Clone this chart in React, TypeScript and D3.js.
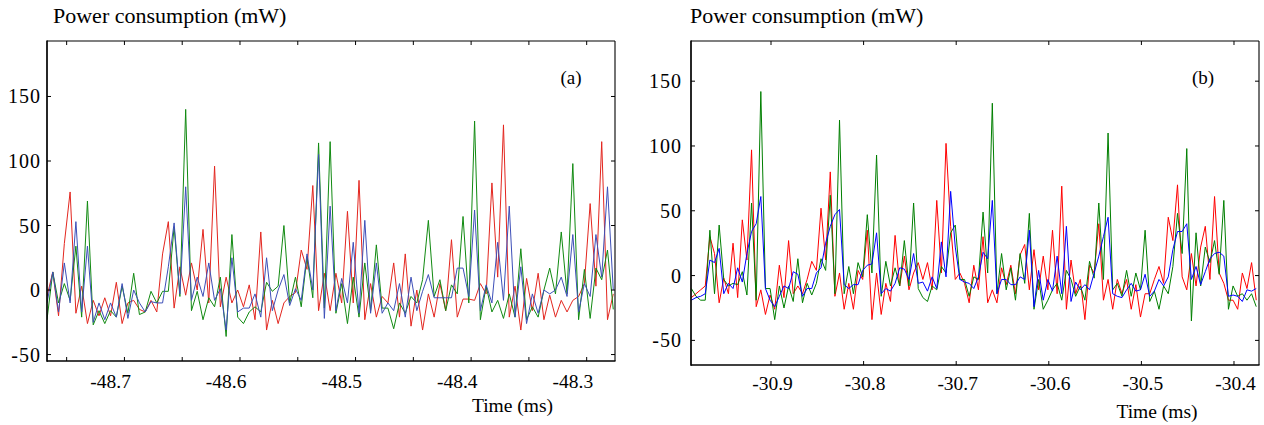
import React from "react";
import * as d3 from "d3";

// ---------- data ----------
const sampleStep = 0.005; // ms between samples
const leftStart = -48.767;
const rightStart = -30.986;

const leftRed = [
  -5, 14, -20, 36, 76, -18, 3, -26, -8, -20, -6, -20, 6, -26, -10, -8, -15, -17, -8, -17, 28, 53, -14, 18, -4, 21, 0, 47, -10, 96, -13, 10, -10, 0,
  -13, 4, -23, 45, -31, -8, -26, -10, -5, -2, 31, 16, 81, -16, 13, -16, 13, -10, 61, -10, 85, -23, 5, -21, -5, -10, 21, -21, 28, -28, 0, -31,
  -3, -21, 5, -16, 39, -21, -7, -7, -8, 5, -3, 83, 10, 128, -21, 3, -31, 9, -16, 13, -23, -4, -21, -8, -17, -8, -5, 5, 67, 3, 115, -23, -3,
];
const leftGreen = [
  -23, 14, -10, 5, -8, 34, -21, 69, -27, -16, -26, -16, -21, 3, -18, 13, -19, -17, -1, -10, -1, -1, 49, -5, 140, -16, -1, -23, -6, -13, 10, -36, 43,
  -21, -26, -17, -13, -17, 6, -1, 3, 50, -10, 10, -13, 26, -6, 114, -14, 115, -18, 5, -26, 10, -21, 21, -16, 35, -14, -14, -30, -10, -18, -5, -10, 8, 54,
  -5, 8, -16, 4, -3, 57, -10, 131, -23, 3, -17, -8, -22, -3, -21, 32, -23, -13, -21, 0, 17, -3, 45, -3, 98, -23, 16, -22, 17, 8, 31, -15,
];
const leftBlue = [
  -10, 14, -17, 21, -10, 53, -17, 34, -25, -10, -23, -10, -21, 5, -22, 0, -10, -17, -9, -10, -10, 18, 52, -3, 80, -8, 10, -5, 21, -8, 1, -31, 25,
  -17, -14, -14, -3, -21, 25, -16, 0, 12, -12, 1, -8, 28, 0, 105, -22, 65, -16, 9, -10, 37, -18, 54, -18, 21, -18, -10, -16, 5, -21, 10, -16, -1, 12,
  -6, -6, -6, -6, 17, 17, -5, 62, -16, 4, -10, 37, -8, 65, -21, 18, -26, -3, -18, 0, -3, 0, 10, -5, 43, -17, 5, -5, 43, 10, 80, 0,
];

const rightRed = [
  -17, -14, -11, -8, 30, 17, -21, -2, -14, 25,
  -17, 43, 12, 97, -24, -11, -30, -15, -26, 8,
  -17, 27, -14, -8, -14, -3, 11, 4, 52, 12,
  80, -16, 2, -26, -6, -26, 4, -3, 35, -34,
  2, -30, -6, -20, 31, -8, 15, -11, 2, 10,
  -3, 10, -11, 58, 2, 102, 38, -3, 2, -6,
  -21, 8,
  -11, 30, -21, -11, -21, 6, -7, 8, -14, 16,
  24, -11, 20, -11, 15, -11, 35, -14, 69, -26,
  12, -14, -3, -34, 8, 2, 40, -19, -3, -26,
  -3, -14, -3, -26, -7, -32, -14, -14, -3, 7,
  -6, 45, 27, 70, -1, -11, 17, -8, 22, 38,
  -3, 61, 2, -6, -19, -19, -26, 2, -10, 10,
  -19,
];
const rightGreen = [
  -10, -16, -19, -19, 35, -14, 39, -3, -8, -6,
  -7, 3, -15, 56, -19, 142, -10, -10, -34, -8,
  -25, -8, -20, 13, -21, -6, -15, -6, 13, 4,
  62, -14, 120, -14, 7, -14, 10, -1, 47, 2,
  93, -16, 11, -8, 6, -8, 27, -8, 56, -10,
  -17, -20, -8, -11, 7, 2, 33, 39, -3, -3,
  -16, -1,
  -3, 49, 2, 133, -14, 17, -11, 6, -19, 17,
  -6, 48, -26, -3, -26, -19, -11, -6, -19, 4,
  -3, -16, -8, -19, 11, -2, 56, -3, 110, -11,
  -6, -16, 4, -16, 2, -11, 35, -20, -12, -26,
  -8, -14, 7, 48, 17, 98, -35, 33, -8, 22,
  10, 27, 1, 58, -26, -8, -16, -14, -19, -14,
  -24,
];
const rightBlue = [
  -19, -17, -16, -14, 12, 10, 21, -14, -6, -10,
  6, -5, 17, 34, 40, 61, -10, -19, -24, -16,
  -8, -10, 3, 1, -16, -10, -10, 2, 6, 25,
  38, 47, 51, -7, -10, -7, -7, 4, 8, 9,
  33, -14, -10, -12, -6, 6, 5, -3, 17, -6,
  -5, -12, -1, -10, 26, -1, 65, 22, -3, -5,
  -6, -10,
  -1, 18, 13, 58, -14, -3, -3, -7, -7, -1,
  -3, 35, -24, 4, -19, -3, -12, 15, -14, 38,
  -20, -5, -11, -7, -11, 2, 15, 30, 45, -14,
  -16, -17, -11, -6, -12, -11, 1, -16, -12, -3,
  -8, -1, 20, 34, 34, 40, -3, 7, -7, 3,
  13, 17, 18, 15, -16, -15, -16, -20, -11, -12,
  -10,
];

const yTickValues = [-50, 0, 50, 100, 150];
const leftXTicks = [-48.75, -48.7, -48.65, -48.6, -48.55, -48.5, -48.45, -48.4, -48.35, -48.3];
const leftXLabelTicks = [-48.7, -48.6, -48.5, -48.4, -48.3];
const rightXTicks = [-30.9, -30.8, -30.7, -30.6, -30.5, -30.4];
const rightXLabelTicks = [-30.9, -30.8, -30.7, -30.6, -30.5, -30.4];

const titleText = "Power consumption (mW)";
const xAxisTitle = "Time (ms)";

const FONT = "'Liberation Serif', 'Times New Roman', serif";

type PanelProps = {
  id: string;
  box: { x0: number; x1: number; y0: number; y1: number };
  xDomain: [number, number];
  yDomain: [number, number];
  start: number;
  series: { values: number[]; color: string }[];
  xTicks: number[];
  xLabelTicks: number[];
  xLabelAnchor: "end" | "middle";
  xLabelDx: number;
  xLabelY: number;
  yLabelX: number;
  titleX: number;
  panelLabel: string;
  panelLabelX: number;
  timeX: number;
  timeY: number;
};

function Panel(p: PanelProps) {
  const { x0, x1, y0, y1 } = p.box;
  const x = d3.scaleLinear().domain(p.xDomain).range([x0, x1]);
  const y = d3.scaleLinear().domain(p.yDomain).range([y1, y0]);
  const tick = 4;
  const clipId = `clip-${p.id}`;
  return (
    <g>
      <defs>
        <clipPath id={clipId}>
          <rect x={x0} y={y0} width={x1 - x0} height={y1 - y0} />
        </clipPath>
      </defs>
      <g clipPath={`url(#${clipId})`}>
        {p.series.map((s, k) => {
          const line = d3
            .line<number>()
            .x((_, i) => x(p.start + i * sampleStep))
            .y((v) => y(v));
          return (
            <path key={k} d={line(s.values) || ""} fill="none" stroke={s.color} strokeWidth={1} strokeLinejoin="miter" />
          );
        })}
      </g>
      {/* frame */}
      <line x1={x0} y1={y0} x2={x1} y2={y0} stroke="#000" strokeWidth={1.1} />
      <line x1={x1} y1={y0} x2={x1} y2={y1} stroke="#000" strokeWidth={1.1} />
      <line x1={x0} y1={y1} x2={x1 + 0.5} y2={y1} stroke="#000" strokeWidth={1.7} />
      <line x1={x0} y1={y0 - 0.5} x2={x0} y2={y1 + 0.8} stroke="#000" strokeWidth={1.7} />
      {/* x ticks */}
      {p.xTicks.map((t) => (
        <g key={`xt${t}`}>
          <line x1={x(t)} x2={x(t)} y1={y1} y2={y1 - tick} stroke="#000" strokeWidth={1} />
          <line x1={x(t)} x2={x(t)} y1={y0} y2={y0 + tick} stroke="#000" strokeWidth={1} />
        </g>
      ))}
      {p.xLabelTicks.map((t) => (
        <text
          key={`xl${t}`}
          x={x(t) + p.xLabelDx}
          y={p.xLabelY}
          textAnchor={p.xLabelAnchor}
          fontFamily={FONT}
          fontSize={19.5}
          fill="#000"
        >
          {d3.format(".1f")(t).replace("−", "-")}
        </text>
      ))}
      {/* y ticks */}
      {yTickValues.map((v) => (
        <g key={`yt${v}`}>
          <line x1={x0} x2={x0 + tick} y1={y(v)} y2={y(v)} stroke="#000" strokeWidth={1} />
          <line x1={x1} x2={x1 - tick} y1={y(v)} y2={y(v)} stroke="#000" strokeWidth={1} />
          <text
            x={p.yLabelX}
            y={y(v)}
            dy="0.35em"
            textAnchor="end"
            fontFamily={FONT}
            fontSize={20}
            letterSpacing={1}
            fill="#000"
          >
            {String(v)}
          </text>
        </g>
      ))}
      <text x={p.titleX} y={23} fontFamily={FONT} fontSize={22} fill="#000">
        {titleText}
      </text>
      <text x={p.panelLabelX} y={84} textAnchor="middle" fontFamily={FONT} fontSize={19} fill="#000">
        {p.panelLabel}
      </text>
      <text x={p.timeX} y={p.timeY} textAnchor="middle" fontFamily={FONT} fontSize={19.5} fill="#000">
        {xAxisTitle}
      </text>
    </g>
  );
}

export default function App() {
  return (
    <svg
      width={1264}
      height={425}
      viewBox="0 0 1264 425"
      style={{ position: "absolute", left: 0, top: 0, background: "#fff" }}
    >
      <rect x={0} y={0} width={1264} height={425} fill="#fff" />
      <Panel
        id="a"
        box={{ x0: 47, x1: 615, y0: 41, y1: 361 }}
        xDomain={[-48.767, -48.2755]}
        yDomain={[-55, 193]}
        start={leftStart}
        series={[
          { values: leftRed, color: "#e3261f" },
          { values: leftGreen, color: "#118a11" },
          { values: leftBlue, color: "#3d4fb8" },
        ]}
        xTicks={leftXTicks}
        xLabelTicks={leftXLabelTicks}
        xLabelAnchor="end"
        xLabelDx={6.5}
        xLabelY={388}
        yLabelX={41}
        titleX={53}
        panelLabel="(a)"
        panelLabelX={571}
        timeX={512.5}
        timeY={412}
      />
      <Panel
        id="b"
        box={{ x0: 691, x1: 1259, y0: 41, y1: 365 }}
        xDomain={[-30.9864, -30.373]}
        yDomain={[-69, 181]}
        start={rightStart}
        series={[
          { values: rightRed, color: "#ff0000" },
          { values: rightGreen, color: "#007f00" },
          { values: rightBlue, color: "#0000ff" },
        ]}
        xTicks={rightXTicks}
        xLabelTicks={rightXLabelTicks}
        xLabelAnchor="middle"
        xLabelDx={1.5}
        xLabelY={390}
        yLabelX={682}
        titleX={690}
        panelLabel="(b)"
        panelLabelX={1203}
        timeX={1157}
        timeY={418}
      />
    </svg>
  );
}
